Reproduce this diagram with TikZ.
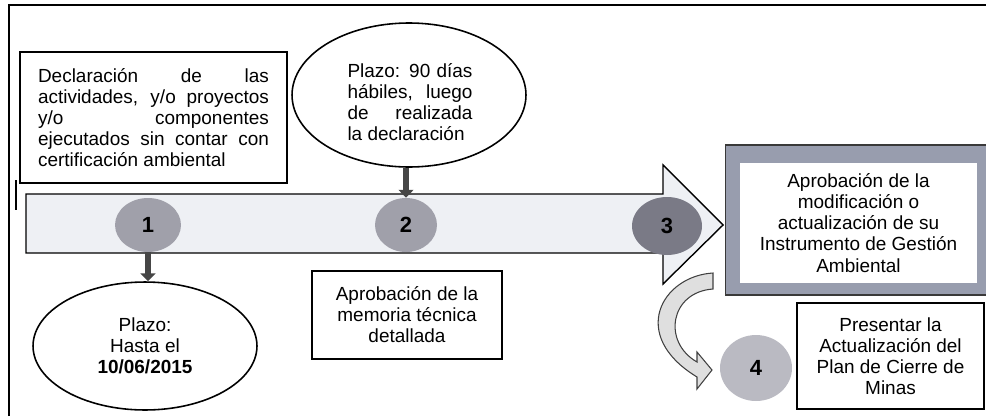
\documentclass[tikz,border=0pt]{standalone}
\usepackage{fontspec}
\setmainfont{Liberation Sans}
\usetikzlibrary{shapes,arrows.meta,positioning,calc}

\definecolor{framegray}{RGB}{152,157,174}
\definecolor{numgray}{RGB}{160,160,170}
\definecolor{numdark}{RGB}{122,122,134}
\definecolor{numlight}{RGB}{186,186,194}
\definecolor{bandgray}{RGB}{238,240,244}

\begin{document}
\begin{tikzpicture}[
    x=0.02cm, y=-0.02cm,
    txt/.style={font=\fontsize{10.8}{12}\selectfont},
    box/.style={rectangle, draw=black, line width=0.8pt, fill=white, txt, align=center, inner sep=0pt},
    oval/.style={ellipse, draw=black, line width=0.9pt, fill=white, txt, align=center, inner sep=0pt},
    num/.style={ellipse, fill=numgray, inner sep=0pt, font=\fontsize{12.5}{14}\selectfont\bfseries},
    down/.style={-{Triangle[width=8.5pt,length=4.5pt]}, line width=3pt, draw=gray!55!black}
]
\useasboundingbox (0,0) rectangle (986,416);

% Outer frame
\draw[line width=1.2pt] (9,416) -- (9,5) -- (986,5);
\draw[line width=0.8pt] (16,180) -- (16,210);

% Timeline band
\draw[line width=0.8pt, fill=bandgray] (26,194) -- (663,194) -- (663,165) -- (723,225)
    -- (663,284) -- (663,253) -- (26,253) -- cycle;

% Steps
\node[num, minimum width=1.32cm, minimum height=1.08cm] (c1) at (148,225) {1};
\node[num, minimum width=1.24cm, minimum height=1.08cm] (c2) at (406,225) {2};
\node[num, fill=numdark, minimum width=1.4cm, minimum height=1.16cm] (c3) at (667,226) {3};
\node[num, fill=numlight, minimum width=1.44cm, minimum height=1.32cm] (c4) at (756,368) {4};

% Texts of the steps
\node[box, minimum width=5.34cm, minimum height=2.62cm, text width=4.62cm, align=justify] (decl) at (153.5,117.5)
    {Declaración de las\linebreak actividades, y/o proyectos\linebreak y/o componentes\linebreak ejecutados sin contar con\linebreak certificación ambiental};
\node[oval, minimum width=4.68cm, minimum height=2.88cm] (plazo90) at (409,95) {};
\node[txt, text width=2.5cm, align=justify, inner sep=0pt] (plazo90txt) at (410,102)
    {Plazo: 90 días\linebreak hábiles, luego\linebreak de realizada\linebreak la declaración};
\node[oval, minimum width=4.48cm, minimum height=2.56cm] (plazo1) at (145,346)
    {Plazo:\\Hasta el\\\textbf{10/06/2015}};
\node[box, minimum width=3.8cm, minimum height=1.76cm] (memoria) at (407,315)
    {Aprobación de la\\memoria técnica\\detallada};

% Approval box with grey frame
\node[rectangle, fill=framegray, draw=gray!45!black, line width=0.6pt, minimum width=5.24cm, minimum height=3cm] (marco) at (856,220) {};
\node[box, draw=none, minimum width=4.74cm, minimum height=2.4cm] (aprob) at (858.5,223)
    {Aprobación de la\\modificación o\\actualización de su\\Instrumento de Gestión\\Ambiental};
\node[box, minimum width=3.74cm, minimum height=2.12cm] (cierre) at (890.5,356)
    {Presentar la\\Actualización del\\Plan de Cierre de\\Minas};

% Connectors
\draw[down] (c2.north |- plazo90.south) -- (c2.north);
\draw[down] (c1.south) -- (c1.south |- plazo1.north);

% Curved arrow to step 4
\draw[line width=0.6pt, draw=gray!50!black, fill=gray!25]
    (713,273) .. controls (662,276) and (628,335) .. (697,377) -- (697,389) -- (712,370)
    -- (697,352) -- (697,362) .. controls (662,342) and (670,292) .. (713,289) -- cycle;

\end{tikzpicture}
\end{document}
